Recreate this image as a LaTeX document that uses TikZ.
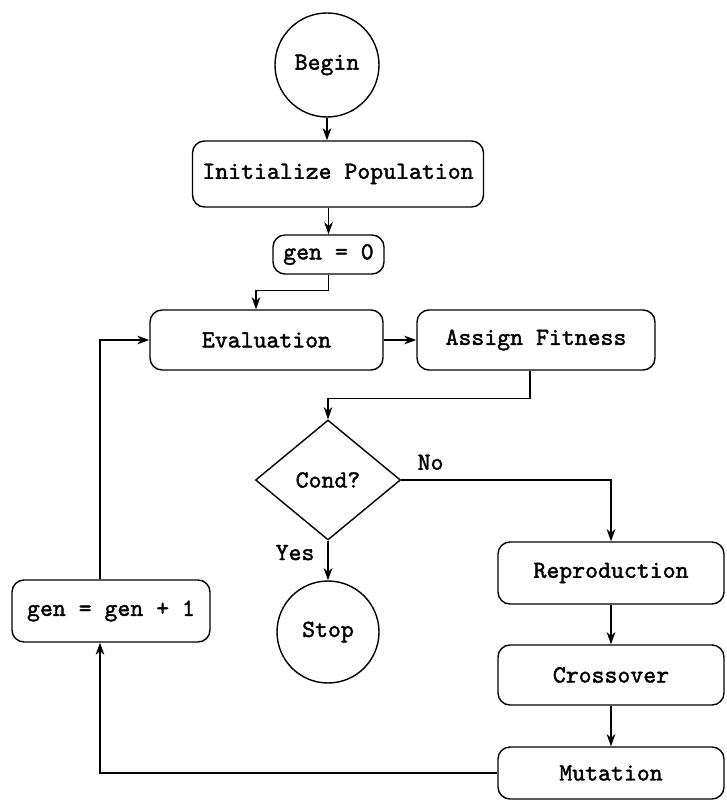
\documentclass[tikz,border=0pt]{standalone}
\usepackage{fontspec}
\newfontfamily\flowfont[FakeBold=1.6]{lmmono10-regular.otf}
\usetikzlibrary{arrows.meta,shapes.geometric}

\begin{document}
\begin{tikzpicture}
		\useasboundingbox (0,0) rectangle (14.52,-16.06);
		\begin{scope}[every node/.style={thick,draw,font=\flowfont\bfseries\fontsize{14}{16}\selectfont},
			box/.style={rectangle,rounded corners=0.24cm,minimum height=1.2cm}]
			\node[circle,minimum size=2.08cm] (Begin) at (6.54,-1.3) {Begin};
			\node[box,minimum width=5.82cm,minimum height=1.32cm] (Init) at (6.76,-3.48) {Initialize Population};
			\node[box,minimum width=2.22cm,minimum height=0.78cm] (Gen0) at (6.57,-5.09) {gen = 0};
			\node[box,minimum width=4.66cm] (Eval) at (5.33,-6.8) {Evaluation};
			\node[box,minimum width=4.76cm] (Fit) at (10.72,-6.8) {Assign Fitness};
			\node[diamond,inner sep=0pt,minimum width=2.9cm,minimum height=2.4cm] (Cond) at (6.56,-9.6) {Cond?};
			\node[circle,minimum size=2.04cm] (Stop) at (6.56,-12.64) {Stop};
			\node[box,minimum width=4.52cm,minimum height=1.24cm] (Rep) at (12.22,-11.46) {Reproduction};
			\node[box,minimum width=4.52cm] (Cross) at (12.22,-13.5) {Crossover};
			\node[box,minimum width=4.52cm,minimum height=1.04cm] (Mut) at (12.22,-15.46) {Mutation};
			\node[box,minimum width=3.96cm,minimum height=1.24cm] (Gen1) at (2.22,-12.22) {gen = gen + 1};
		\end{scope}
		\begin{scope}[>={Stealth[length=7pt,width=5pt]},thick,
			every node/.style={font=\flowfont\bfseries\fontsize{14}{16}\selectfont},
			every edge/.style={draw=black,thick}]
			\path [->] (Begin) edge (Begin |- Init.north);
			\path [->] (Gen0 |- Init.south) edge (Gen0);
			\draw [->] (Gen0.south) -- ++(0,-0.32) -| ([xshift=-0.21cm]Eval.north);
			\path [->] (Eval) edge (Fit);
			\draw [->] ([xshift=-0.12cm]Fit.south) -- ++(0,-0.56) -| (Cond.north);
			\draw [->] (Cond.east) -| node[pos=0.07,above=2pt] {No} (Rep.north);
			\path [->] (Cond) edge node[pos=0.3,left=4pt] {Yes} (Stop);
			\path [->] (Rep) edge (Cross);
			\path [->] (Cross) edge (Mut);
			\draw [->] (Mut.west) -| ([xshift=-0.22cm]Gen1.south);
			\draw [->] ([xshift=-0.22cm]Gen1.north) |- (Eval.west);
		\end{scope}
	\end{tikzpicture}
\end{document}
